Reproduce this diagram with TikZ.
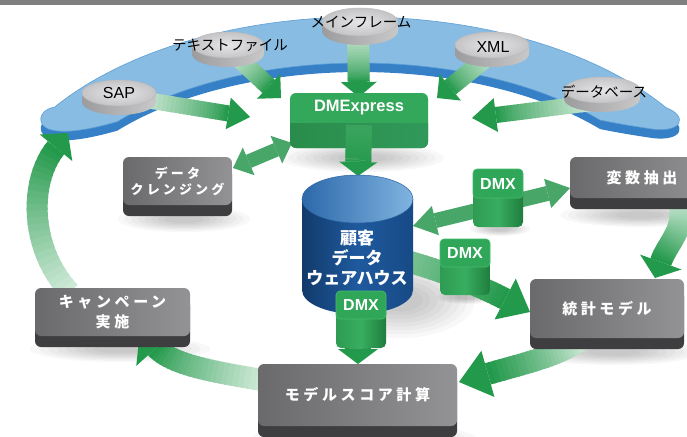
\documentclass[tikz,border=0pt]{standalone}
\usepackage{fontspec}
\newfontfamily\jp{Noto Sans CJK JP}
\newfontfamily\jpsp{Noto Sans CJK JP}[LetterSpace=24]
\newfontfamily\lat{Liberation Sans}
\usetikzlibrary{shapes.geometric,calc}

\definecolor{topbar}{HTML}{7F7F7F}
\definecolor{bandTop}{HTML}{88BCE2}
\definecolor{bandSide}{HTML}{3580C6}
\definecolor{bandLine}{HTML}{5C9FD6}
\definecolor{ag}{HTML}{23994B}
\definecolor{agT}{HTML}{DDF0E3}
\definecolor{agM}{HTML}{47A668}
\definecolor{boxA}{HTML}{6A6A6C}
\definecolor{boxB}{HTML}{939395}
\definecolor{slab}{HTML}{3E3E40}
\definecolor{dmeTop}{HTML}{33A85B}
\definecolor{dmeBot}{HTML}{2A8C4B}
\definecolor{dmeBot2}{HTML}{30995A}
\definecolor{dmxTop}{HTML}{30A758}
\definecolor{dmxEdge}{HTML}{45BD6E}
\definecolor{dmxA}{HTML}{2E9B52}
\definecolor{dmxB}{HTML}{38AE60}
\definecolor{dmxC}{HTML}{1F7D3D}
\definecolor{cylA}{HTML}{123A6B}
\definecolor{cylB}{HTML}{1F5A9E}
\definecolor{cylC}{HTML}{174A86}
\definecolor{cylTopA}{HTML}{2C69AA}
\definecolor{cylTopB}{HTML}{80B4E0}
\definecolor{cylEdge}{HTML}{2A63A3}
\definecolor{discA}{HTML}{E6E6E8}
\definecolor{discB}{HTML}{C4C4C6}
\definecolor{discS}{HTML}{9C9C9E}

\newcommand\getpt[3]{\path (#1); \pgfgetlastxy{#2}{#3}}

% gradient arrow: S, C1, C2, tip, width, head half width, head length, start percentage
\newcommand\garrow[8]{%
  \getpt{#1}{\zSX}{\zSY}\getpt{#2}{\zAX}{\zAY}\getpt{#3}{\zBX}{\zBY}\getpt{#4}{\zTX}{\zTY}%
  \pgfmathsetmacro\zsx{\zSX}\pgfmathsetmacro\zsy{\zSY}%
  \pgfmathsetmacro\zax{\zAX}\pgfmathsetmacro\zay{\zAY}%
  \pgfmathsetmacro\zbx{\zBX}\pgfmathsetmacro\zby{\zBY}%
  \pgfmathsetmacro\ztx{\zTX}\pgfmathsetmacro\zty{\zTY}%
  \pgfmathsetmacro\zdx{\ztx-\zbx}\pgfmathsetmacro\zdy{\zty-\zby}%
  \pgfmathsetmacro\zl{veclen(\zdx,\zdy)}%
  \pgfmathsetmacro\zux{\zdx/\zl}\pgfmathsetmacro\zuy{\zdy/\zl}%
  \pgfmathsetmacro\zex{\ztx-#7*\zux}\pgfmathsetmacro\zey{\zty-#7*\zuy}%
  \foreach \zi in {0,...,23}{%
    \pgfmathsetmacro\zta{\zi/24}%
    \pgfmathsetmacro\ztb{min(1,(\zi+1)/24+0.015)}%
    \pgfmathtruncatemacro\zpc{#8+(100-#8)*\zi/23}%
    \draw[line width=#5, color=ag!\zpc!agT] plot[domain=\zta:\ztb, samples=4, variable=\zt]
      ({((1-\zt)*(1-\zt)*(1-\zt)*\zsx+3*(1-\zt)*(1-\zt)*\zt*\zax+3*(1-\zt)*\zt*\zt*\zbx+\zt*\zt*\zt*\zex)*1pt},
       {((1-\zt)*(1-\zt)*(1-\zt)*\zsy+3*(1-\zt)*(1-\zt)*\zt*\zay+3*(1-\zt)*\zt*\zt*\zby+\zt*\zt*\zt*\zey)*1pt});
  }%
  \fill[ag] ({(\zex-\zuy*#6)*1pt},{(\zey+\zux*#6)*1pt}) -- (#4) -- ({(\zex+\zuy*#6)*1pt},{(\zey-\zux*#6)*1pt}) -- cycle;
}
\newcommand\gline[6]{%
  \coordinate (glA) at ($(#1)!0.333!(#2)$);
  \coordinate (glB) at ($(#1)!0.667!(#2)$);
  \garrow{#1}{glA}{glB}{#2}{#3}{#4}{#5}{#6}}
% double arrow: A, B, width, head half width, head length
\newcommand\gdouble[5]{%
  \getpt{#1}{\zAX}{\zAY}\getpt{#2}{\zBX}{\zBY}%
  \pgfmathsetmacro\zax{\zAX}\pgfmathsetmacro\zay{\zAY}%
  \pgfmathsetmacro\zbx{\zBX}\pgfmathsetmacro\zby{\zBY}%
  \pgfmathsetmacro\zdx{\zbx-\zax}\pgfmathsetmacro\zdy{\zby-\zay}%
  \pgfmathsetmacro\zl{veclen(\zdx,\zdy)}%
  \pgfmathsetmacro\zux{\zdx/\zl}\pgfmathsetmacro\zuy{\zdy/\zl}%
  \pgfmathsetmacro\zpx{\zax+#5*\zux}\pgfmathsetmacro\zpy{\zay+#5*\zuy}%
  \pgfmathsetmacro\zqx{\zbx-#5*\zux}\pgfmathsetmacro\zqy{\zby-#5*\zuy}%
  \draw[line width=#3, agM] ({\zpx*1pt},{\zpy*1pt}) -- ({\zqx*1pt},{\zqy*1pt});
  \fill[agM] ({(\zpx-\zuy*#4)*1pt},{(\zpy+\zux*#4)*1pt}) -- (#1) -- ({(\zpx+\zuy*#4)*1pt},{(\zpy-\zux*#4)*1pt}) -- cycle;
  \fill[agM] ({(\zqx-\zuy*#4)*1pt},{(\zqy+\zux*#4)*1pt}) -- (#2) -- ({(\zqx+\zuy*#4)*1pt},{(\zqy-\zux*#4)*1pt}) -- cycle;
}
\newcommand\softshadow[4]{\foreach \zk in {0,...,7}{\pgfmathsetmacro\zrx{#3*(1-\zk/10)}\pgfmathsetmacro\zry{#4*(1-\zk/10)}\fill[black,opacity=0.028] (#1,#2) ellipse [x radius=\zrx pt, y radius=\zry pt];}}
% disc: name, cx, cy, rx, ry
\newcommand\disc[5]{%
  \shade[left color=discS, right color=discS!55!white] ({#2-#4},{#3}) -- ({#2-#4},{#3+9}) arc[start angle=180,end angle=360,x radius=#4pt,y radius=#5pt] -- ({#2+#4},{#3}) -- cycle;
  \node[discnode, minimum width=2*#4, minimum height=2*#5] (#1) at (#2,#3) {};}
\newcommand\bandpath{plot[domain=0:1,samples=90,variable=\zb] ({360+374*cos(144.6-109.6*\zb)},{230-213*sin(144.6-109.6*\zb)}) .. controls (688,116) and (683,133) .. (652,129) .. controls (632,126) and (614,123) .. (600,120) -- plot[domain=0:1,samples=90,variable=\zb] ({360+319*cos(41.2+98.4*\zb)},{230-167*sin(41.2+98.4*\zb)}) .. controls (95,128) and (68,134) .. (52,130) .. controls (36,127) and (37,110) .. (55,107) -- cycle}

\begin{document}
\begin{tikzpicture}[x=1pt,y=-1pt,
  graybox/.style={rounded corners=6pt, left color=boxA, right color=boxB, text=white, align=center, inner sep=0pt,
    font=\jpsp\bfseries\fontsize{15}{20}\selectfont,
    preaction={fill=slab, transform canvas={yshift=-11pt}}},
  dmxtop/.style={rounded corners=4pt, fill=dmxTop, draw=dmxEdge, line width=0.6pt, text=white, inner sep=0pt,
    font=\lat\bfseries\fontsize{16}{16}\selectfont, minimum width=50, minimum height=28},
  dmxbody/.style={rounded corners=5pt, left color=dmxA, right color=dmxC, middle color=dmxB},
  discnode/.style={ellipse, inner sep=0pt, draw=discS!70!white, line width=0.4pt, inner color=discA, outer color=discB},
  disclabel/.style={text=black, inner sep=0pt, font=\jp\fontsize{14.5}{16}\selectfont},
  latlabel/.style={text=black, inner sep=0pt, font=\lat\fontsize{16}{16}\selectfont}]
\useasboundingbox (0,0) rectangle (687,436);
\clip (0,0) rectangle (687,436);
\fill[white] (0,0) rectangle (687,436);
\fill[topbar] (0,0) rectangle (687,5.5);

% soft shadows
\softshadow{362}{158}{82}{14}
\softshadow{400}{300}{75}{38}
\softshadow{184}{219}{66}{13}
\softshadow{120}{349}{90}{13}
\softshadow{640}{215}{80}{12}
\softshadow{614}{352}{88}{13}
\softshadow{364}{438}{112}{14}
\softshadow{500}{229}{30}{7}
\softshadow{467}{297}{30}{7}

% blue band
\fill[bandSide, shift={(0,9)}] \bandpath;
\filldraw[fill=bandTop, draw=bandLine, line width=0.6pt] \bandpath;

% sources -> DMExpress
\coordinate (sapS) at (140,99);  \coordinate (sapT) at (250,117);
\gline{sapS}{sapT}{16pt}{16}{22}{8}
\coordinate (txtS) at (232,52);  \coordinate (txtT) at (281,98);
\gline{txtS}{txtT}{18pt}{17}{17}{8}
\coordinate (mfS) at (358,30);   \coordinate (mfT) at (359,97);
\gline{mfS}{mfT}{22pt}{18}{15}{8}
\coordinate (xmlS) at (494,52);  \coordinate (xmlT) at (437,98);
\gline{xmlS}{xmlT}{18pt}{17}{17}{8}
\coordinate (dbS) at (592,103);  \coordinate (dbT) at (472,118);
\gline{dbS}{dbT}{16pt}{17}{24}{8}

% discs
\disc{sap}{119}{93}{37}{13}
\disc{txt}{228}{45}{36}{13}
\disc{mf}{360}{22}{38}{14}
\disc{xml}{492}{45}{37}{13}
\disc{db}{602}{90}{38}{13}
\node[latlabel] (sapL) at (119,93) {SAP};
\node[disclabel] (txtL) at (230,45) {テキストファイル};
\node[disclabel] (mfL) at (361,22) {メインフレーム};
\node[latlabel] (xmlL) at (493,47) {XML};
\node[disclabel] (dbL) at (604,92) {データベース};

% double arrows
\coordinate (dcA) at (233,168); \coordinate (dcB) at (292,143);
\gdouble{dcA}{dcB}{14pt}{15}{17}
\coordinate (dxA) at (413,226); \coordinate (dxB) at (570,188);
\gdouble{dxA}{dxB}{15pt}{15}{23}

% warehouse -> statistics model (through DMX)
\coordinate (wsS) at (410,262); \coordinate (wsA) at (445,272);
\coordinate (wsB) at (480,286); \coordinate (wsT) at (530,312);
\garrow{wsS}{wsA}{wsB}{wsT}{22pt}{23}{28}{55}
% warehouse -> score
\coordinate (w3S) at (358,318); \coordinate (w3T) at (358,364);
\gline{w3S}{w3T}{26pt}{20}{15}{90}
% variables -> statistics
\coordinate (hsS) at (680,205); \coordinate (hsA) at (684,232);
\coordinate (hsB) at (668,242); \coordinate (hsT) at (655,278);
\garrow{hsS}{hsA}{hsB}{hsT}{22pt}{22}{17}{20}
% statistics -> score
\coordinate (tkS) at (580,340); \coordinate (tkA) at (560,355);
\coordinate (tkB) at (530,362); \coordinate (tkT) at (459,382);
\garrow{tkS}{tkA}{tkB}{tkT}{22pt}{24}{30}{10}
% score -> campaign
\coordinate (cmS) at (262,380); \coordinate (cmA) at (215,372);
\coordinate (cmB) at (172,365); \coordinate (cmT) at (140,330);
\garrow{cmS}{cmA}{cmB}{cmT}{22pt}{27}{24}{10}
% campaign -> band
\coordinate (bnS) at (70,292); \coordinate (bnA) at (30,250);
\coordinate (bnB) at (28,182); \coordinate (bnT) at (68,133);
\garrow{bnS}{bnA}{bnB}{bnT}{21pt}{21}{19}{8}

% DMExpress
\node[rounded corners=6pt, fill=dmeTop, minimum width=138, minimum height=55, inner sep=0pt] (dme) at (359,120.5) {};
\begin{scope}
\clip (285,123) rectangle (435,152);
\shade[rounded corners=6pt, left color=dmeBot, right color=dmeBot2] (290,93) rectangle (428,148);
\end{scope}
\coordinate (dwS) at (359,125); \coordinate (dwT) at (358,176);
\gline{dwS}{dwT}{26pt}{19}{14}{88}
\node[text=white, inner sep=0pt, font=\lat\bfseries\fontsize{16.5}{17}\selectfont] (dmeL) at (359,108) {DMExpress};

% warehouse cylinder
\shade[left color=cylA, right color=cylC, middle color=cylB] (302,199) -- (302,290) arc[start angle=180, end angle=360, x radius=55.5pt, y radius=24pt] -- (413,199) -- cycle;
\shade[left color=cylTopA, right color=cylTopB, draw=cylEdge, line width=0.5pt] (357.5,199) ellipse [x radius=55.5pt, y radius=24pt];
\node[text=white, align=center, inner sep=0pt, font=\jp\bfseries\fontsize{17}{20}\selectfont] (dwh) at (357,258) {顧客\\データ\\ウェアハウス};

% DMX boxes
\shade[dmxbody] (473,185) rectangle (523,227);
\node[dmxtop, minimum height=29] (dmx1) at (498,183.5) {DMX};
\shade[dmxbody] (440,255) rectangle (490,295);
\node[dmxtop] (dmx2) at (465,253) {DMX};
\shade[dmxbody] (336,307) rectangle (386,348);
\node[dmxtop] (dmx3) at (361,305) {DMX};

% grey process boxes
\node[graybox, minimum width=109, minimum height=48, font=\jpsp\bfseries\fontsize{13}{16}\selectfont] (clean) at (177.5,181) {データ\\クレンジング};
\node[graybox, minimum width=155, minimum height=48] (camp) at (112.5,312) {キャンペーン\\実施};
\node[graybox, minimum width=144, minimum height=41] (hensu) at (642,177.5) {変数抽出};
\node[graybox, minimum width=154, minimum height=59] (tokei) at (607,308.5) {統計モデル};
\node[graybox, minimum width=199, minimum height=62] (score) at (357.5,395) {モデルスコア計算};
\end{tikzpicture}
\end{document}
